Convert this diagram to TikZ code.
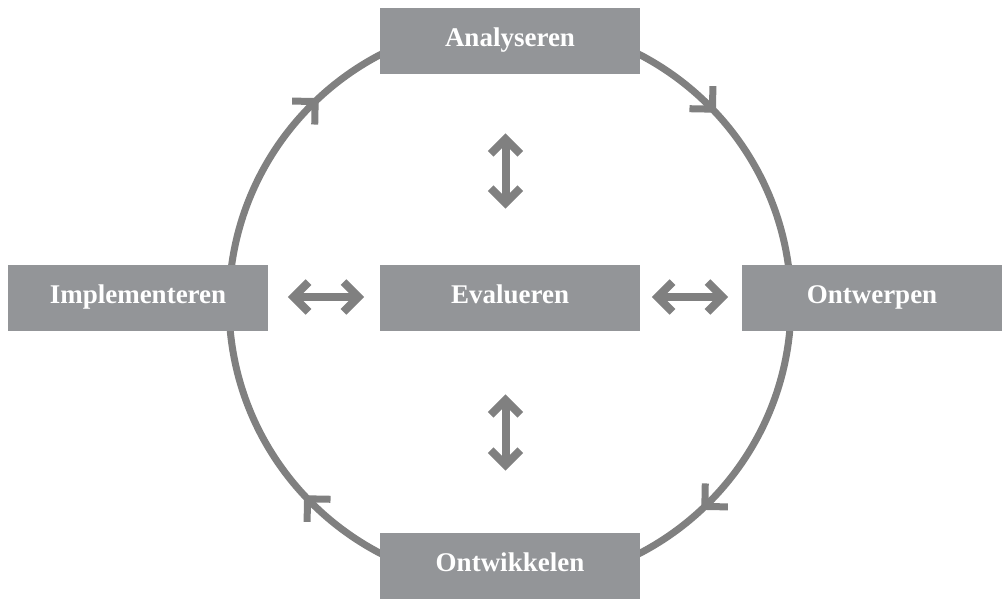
\documentclass[tikz,border=0pt]{standalone}
\usepackage{fontspec}
\setmainfont{Liberation Serif}
\usetikzlibrary{calc}

\definecolor{boxgray}{HTML}{939598}
\definecolor{linegray}{HTML}{808080}

\tikzset{
  phase/.style={rectangle, fill=boxgray, draw=none, minimum width=260pt,
    minimum height=66pt, inner sep=0pt, text=white,
    text height=13.5pt, text depth=1.5pt,
    font=\fontsize{27}{30}\selectfont\bfseries},
  ring/.style={draw=linegray, line width=7pt},
  conn/.style={draw=linegray, line width=8pt, line cap=butt, line join=miter},
}

% double-headed arrow: shaft plus a chevron at each end
\newcommand\twoway[2]{%
  \draw[conn] (#1) -- (#2);
  \draw[conn] ($(#1)!21pt!45:(#2)$) -- (#1) -- ($(#1)!21pt!-45:(#2)$);
  \draw[conn] ($(#2)!21pt!45:(#1)$) -- (#2) -- ($(#2)!21pt!-45:(#1)$);
}

\begin{document}
\begin{tikzpicture}[x=1pt, y=1pt]
  \useasboundingbox (0,0) rectangle (1002,599);
  \fill[white] (0,0) rectangle (1002,599);

  % cycle ring
  \coordinate (C) at (510,295);
  \draw[ring] (C) circle[radius=281];

  % direction chevrons on the ring (clockwise)
  \foreach \a in {133.9,43.9,-46.1,-136.1} {
    \draw[ring, line join=miter, line cap=butt]
      ($(C)+(\a:281)+(\a+45:23)$) -- ($(C)+(\a:281)$) -- ($(C)+(\a:281)+(\a+135:23)$);
  }

  % phases
  \node[phase] (ana) at (510,558) {Analyseren};
  \node[phase] (imp) at (138,301) {Implementeren};
  \node[phase] (eva) at (510,301) {Evalueren};
  \node[phase] (ont) at (872,301) {Ontwerpen};
  \node[phase] (ontw) at (510,33) {Ontwikkelen};

  % links between evaluation and the other phases
  \coordinate (ua) at (505.5,460);
  \coordinate (ub) at (505.5,396);
  \coordinate (da) at (505.5,199);
  \coordinate (db) at (505.5,134);
  \coordinate (la) at (293.6,302);
  \coordinate (lb) at (358.4,302);
  \coordinate (ra) at (657.6,302);
  \coordinate (rb) at (722.4,302);
  \twoway{ua}{ub}
  \twoway{da}{db}
  \twoway{la}{lb}
  \twoway{ra}{rb}
\end{tikzpicture}
\end{document}
